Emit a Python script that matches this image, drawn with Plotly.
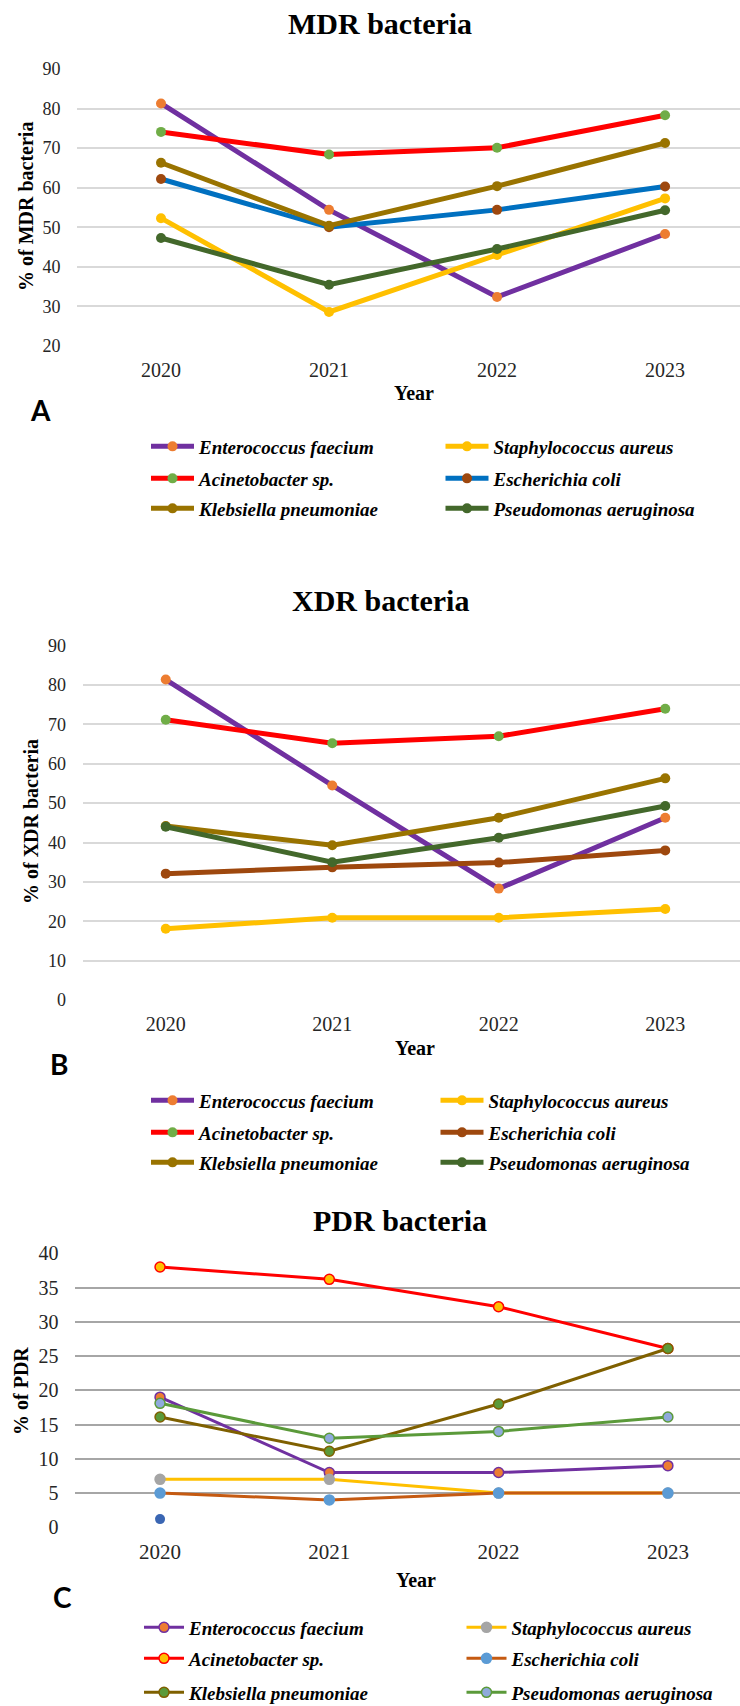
import plotly.graph_objects as go

W, H = 740, 1706

years = ["2020", "2021", "2022", "2023"]
species = ["Enterococcus faecium", "Staphylococcus aureus", "Acinetobacter sp.",
           "Escherichia coli", "Klebsiella pneumoniae", "Pseudomonas aeruginosa"]

# MDR (% of MDR bacteria)
mdr_enterococcus = [81.3, 54.4, 32.4, 48.3]
mdr_staphylococcus = [52.3, 28.6, 43.0, 57.3]
mdr_acinetobacter = [74.1, 68.4, 70.1, 78.3]
mdr_ecoli = [62.2, 50.0, 54.4, 60.3]
mdr_klebsiella = [66.3, 50.4, 60.4, 71.3]
mdr_pseudomonas = [47.3, 35.5, 44.5, 54.3]

# XDR (% of XDR bacteria)
xdr_enterococcus = [81.4, 54.5, 28.3, 46.3]
xdr_staphylococcus = [18.1, 20.9, 20.9, 23.1]
xdr_acinetobacter = [71.2, 65.2, 67.0, 74.0]
xdr_ecoli = [32.1, 33.7, 34.9, 38.0]
xdr_klebsiella = [44.2, 39.3, 46.3, 56.3]
xdr_pseudomonas = [44.0, 35.0, 41.2, 49.3]

# PDR (% of PDR)
pdr_enterococcus = [19.0, 8.0, 8.0, 9.0]
pdr_staphylococcus = [7.0, 7.0, 5.0, 5.0]
pdr_acinetobacter = [38.0, 36.2, 32.2, 26.1]
pdr_ecoli = [5.0, 4.0, 5.0, 5.0]
pdr_klebsiella = [16.1, 11.1, 18.0, 26.1]
pdr_pseudomonas = [18.1, 13.0, 14.0, 16.1]
pdr_extra = [1.2, None, None, None]

# styles: (line colour, marker fill, marker outline)
mdr_style = [("#7030A0", "#ED7D31", "#ED7D31"), ("#FFC000", "#FFC000", "#FFC000"),
             ("#FF0000", "#70AD47", "#70AD47"), ("#0070C0", "#9E480E", "#9E480E"),
             ("#997300", "#997300", "#997300"), ("#43682B", "#43682B", "#43682B")]
xdr_style = [("#7030A0", "#ED7D31", "#ED7D31"), ("#FFC000", "#FFC000", "#FFC000"),
             ("#FF0000", "#70AD47", "#70AD47"), ("#9E480E", "#9E480E", "#9E480E"),
             ("#997300", "#997300", "#997300"), ("#43682B", "#43682B", "#43682B")]
pdr_style = [("#7030A0", "#ED7D31", "#7030A0"), ("#FFC000", "#A5A5A5", "#A5A5A5"),
             ("#FF0000", "#FFC000", "#FF0000"), ("#C55A11", "#5B9BD5", "#5B9BD5"),
             ("#7F6000", "#5B9A3A", "#7F6000"), ("#5B9A3A", "#8FAADC", "#5B9A3A")]

mdr_data = [mdr_enterococcus, mdr_staphylococcus, mdr_acinetobacter, mdr_ecoli, mdr_klebsiella, mdr_pseudomonas]
xdr_data = [xdr_enterococcus, xdr_staphylococcus, xdr_acinetobacter, xdr_ecoli, xdr_klebsiella, xdr_pseudomonas]
pdr_data = [pdr_enterococcus, pdr_staphylococcus, pdr_acinetobacter, pdr_ecoli, pdr_klebsiella, pdr_pseudomonas]

SERIF = "Liberation Serif"

fig = go.Figure()

def legend_id(panel, row):
    idx = panel * 3 + row + 1
    return "legend" if idx == 1 else f"legend{idx}"

def add_panel(panel, data, style, xa, ya, lw, ms, mlw):
    for i, (name, vals, (lc, mc, oc)) in enumerate(zip(species, data, style)):
        fig.add_trace(go.Scatter(
            x=years, y=vals, name=name, mode="lines+markers",
            line=dict(color=lc, width=lw),
            marker=dict(color=mc, size=ms, line=dict(color=oc, width=mlw)),
            xaxis=xa, yaxis=ya, legend=legend_id(panel, i // 2), cliponaxis=False))

add_panel(0, mdr_data, mdr_style, "x", "y", 5, 10, 0)
add_panel(1, xdr_data, xdr_style, "x2", "y2", 5, 10, 0)
add_panel(2, pdr_data, pdr_style, "x3", "y3", 3, 10, 1.5)
fig.add_trace(go.Scatter(x=years, y=pdr_extra, mode="markers", showlegend=False,
                         marker=dict(color="#3A66B3", size=10), xaxis="x3", yaxis="y3",
                         cliponaxis=False))

def py(p):
    return 1 - p / H

def xax(left, right_val, fs):
    return dict(type="category", domain=[left / W, 1], range=[-0.5, right_val],
                showgrid=False, zeroline=False, showline=False, automargin=False,
                ticks="outside", ticklen=5, tickcolor="rgba(0,0,0,0)",
                tickfont=dict(family=SERIF, size=fs, color="#262626"))

def yax(bottom, top, rng, dtick, fs, gc, anchor):
    return dict(domain=[py(bottom), py(top)], range=rng, dtick=dtick, tick0=0,
                showgrid=True, gridcolor=gc, gridwidth=1.5, zeroline=False,
                showline=False, automargin=False, ticks="outside", ticklen=12,
                tickcolor="rgba(0,0,0,0)",
                tickfont=dict(family=SERIF, size=fs, color="#262626"), anchor=anchor)

LEG_FONT = 19

def legend_box(line_x, center_y, spacing, itemw):
    # line starts 5px right of the legend origin; entries are spaced by
    # entrywidth + itemwidth + 20.5
    return dict(orientation="h", bgcolor="rgba(0,0,0,0)", borderwidth=0,
                entrywidth=spacing - itemw - 20.5, entrywidthmode="pixels",
                itemwidth=itemw,
                font=dict(family=SERIF, size=LEG_FONT, color="#000000", style="italic",
                          weight="bold"),
                xanchor="left", yanchor="top", itemclick=False,
                x=(line_x - 5) / W, y=py(center_y - 18.5))

legend_rows = {
    0: (151, [446, 478, 508], 300, 43),
    1: (151, [1100, 1132, 1162], 295, 43),
    2: (144, [1627, 1658, 1692], 328, 40),
}
legends = {}
for panel, (lx, centers, spacing, itemw) in legend_rows.items():
    for row, cy in enumerate(centers):
        legends[legend_id(panel, row)] = legend_box(lx, cy, spacing, itemw)

fig.update_layout(
    width=W, height=H, margin=dict(l=0, r=0, t=0, b=0, autoexpand=False),
    paper_bgcolor="white", plot_bgcolor="white",
    xaxis=dict(**xax(77, 3.446, 20), anchor="y"),
    yaxis=yax(346.8, 68.2, [19.8, 90.2], 10, 18, "#D9D9D9", "x"),
    xaxis2=dict(**xax(82.5, 3.449, 20), anchor="y2"),
    yaxis2=yax(1000.8, 644.9, [-0.2, 90.2], 10, 18, "#D9D9D9", "x2"),
    xaxis3=dict(**xax(75.4, 3.426, 21), anchor="y3"),
    yaxis3=yax(1528.0, 1252.6, [-0.1, 40.1], 5, 20, "#A6A6A6", "x3"),
    showlegend=True,
    **legends,
)

def ann(text, x, y, size, family=SERIF, bold=True, angle=0):
    fig.add_annotation(text=f"<b>{text}</b>" if bold else text, x=x / W, y=py(y),
                       xref="paper", yref="paper", showarrow=False, textangle=angle,
                       xanchor="center", yanchor="middle",
                       font=dict(family=family, size=size, color="#000000"))

ann("MDR bacteria", 380, 23, 30)
ann("XDR bacteria", 381, 600, 30)
ann("PDR bacteria", 400, 1220, 30)
ann("Year", 414, 393, 20)
ann("Year", 415, 1048, 20)
ann("Year", 416, 1580, 20)
ann("% of MDR bacteria", 26, 207, 20, angle=-90)
ann("% of XDR bacteria", 31, 822, 20, angle=-90)
ann("% of PDR", 21, 1391, 20, angle=-90)
ann("A", 40, 410, 28, family="Lato")
ann("B", 59, 1064, 28, family="Lato")
ann("C", 62, 1597, 28, family="Lato")

fig.write_html("out.html", config={"displayModeBar": False},
               post_script="document.body.style.margin='0';document.body.style.overflow='hidden';")
